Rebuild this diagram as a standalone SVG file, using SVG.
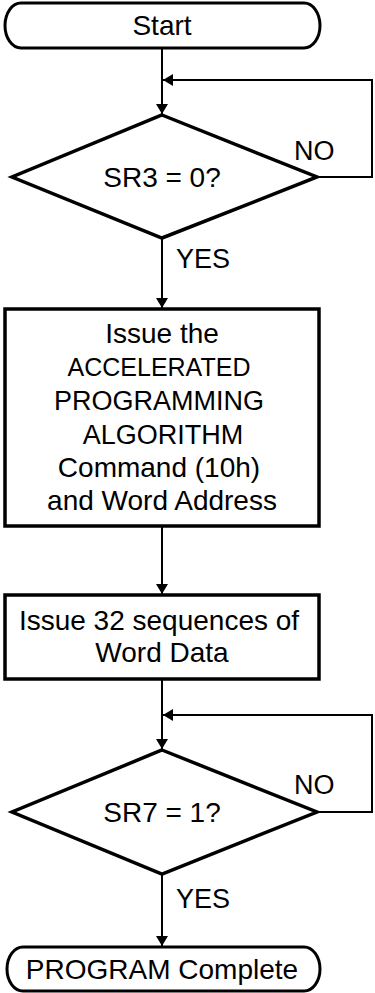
<svg xmlns="http://www.w3.org/2000/svg" width="375" height="993" viewBox="0 0 375 993">
<style>
.sh{fill:#fff;stroke:#000;stroke-width:3.5}
.tm{fill:#fff;stroke:#000;stroke-width:3}
.ln{fill:none;stroke:#000;stroke-width:2}
.t{font-family:"Liberation Sans",Arial,sans-serif;font-size:28px;fill:#000;text-anchor:middle}
.l{font-family:"Liberation Sans",Arial,sans-serif;font-size:27px;fill:#000}
</style>
<defs>
<marker id="ah" markerWidth="10" markerHeight="12" refX="10" refY="6" orient="auto" markerUnits="userSpaceOnUse">
<path d="M0,0 L10,6 L0,12 Z" fill="#000"/>
</marker>
</defs>
<g id="connectors">
<path class="ln" d="M162,48 V114" marker-end="url(#ah)"/>
<path class="ln" d="M317,177 H372 V80 H163" marker-end="url(#ah)"/>
<path class="ln" d="M162,238 V308" marker-end="url(#ah)"/>
<path class="ln" d="M162,526 V594" marker-end="url(#ah)"/>
<path class="ln" d="M162,679 V749" marker-end="url(#ah)"/>
<path class="ln" d="M317,812 H372 V715 H163" marker-end="url(#ah)"/>
<path class="ln" d="M162,874 V946" marker-end="url(#ah)"/>
</g>
<g id="start">
<rect class="tm" x="5" y="3" width="315" height="45" rx="16" ry="22.5"/>
<text class="t" x="162" y="35">Start</text>
</g>
<g id="d1">
<polygon class="sh" points="162,115 317,177 162,238 12,177"/>
<text class="t" x="162" y="187">SR3 = 0?</text>
<text class="l" x="294" y="160">NO</text>
<text class="l" x="176" y="268">YES</text>
</g>
<g id="box1">
<rect class="sh" x="5" y="309" width="314" height="217"/>
<text class="t" x="162" y="343">Issue the</text>
<text class="t" x="159" y="376" style="font-size:25px">ACCELERATED</text>
<text class="t" x="159" y="410" style="font-size:27px">PROGRAMMING</text>
<text class="t" x="163" y="444" style="font-size:27px">ALGORITHM</text>
<text class="t" x="159" y="477">Command (10h)</text>
<text class="t" x="162" y="510">and Word Address</text>
</g>
<g id="box2">
<rect class="sh" x="5" y="595" width="314" height="84"/>
<text class="t" x="159" y="630">Issue 32 sequences of</text>
<text class="t" x="162" y="662">Word Data</text>
</g>
<g id="d2">
<polygon class="sh" points="162,750 317,812 162,874 12,812"/>
<text class="t" x="162" y="822">SR7 = 1?</text>
<text class="l" x="294" y="794">NO</text>
<text class="l" x="176" y="908">YES</text>
</g>
<g id="end">
<rect class="tm" x="7" y="947" width="313" height="44" rx="16" ry="22"/>
<text class="t" x="162" y="979">PROGRAM Complete</text>
</g>
</svg>
